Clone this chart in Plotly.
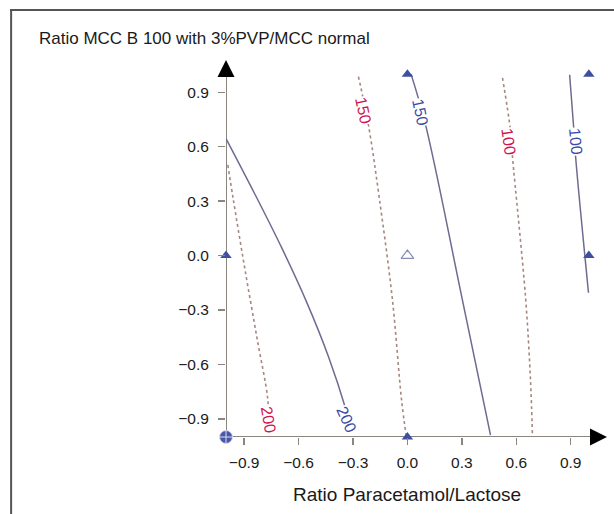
import plotly.graph_objects as go

# ---------------- data ----------------
tick_vals = [-0.9, -0.6, -0.3, 0.0, 0.3, 0.6, 0.9]
tick_text = ["\u22120.9", "\u22120.6", "\u22120.3", "0.0", "0.3", "0.6", "0.9"]

# solid (blue-labelled) contours
blue_200_x = [-1.0, -0.844, -0.694, -0.556, -0.436, -0.337, -0.317]
blue_200_y = [0.645, 0.345, 0.045, -0.255, -0.555, -0.855, -0.93]
blue_150_x = [0.02, 0.10, 0.30, 0.458]
blue_150_y = [1.0, 0.72, -0.23, -0.99]
blue_100_x = [0.894, 0.916, 0.927, 0.998]
blue_100_y = [0.997, 0.71, 0.545, -0.205]

# dotted (red-labelled) contours
red_200_x = [-0.99, -0.96, -0.90, -0.83, -0.77, -0.765]
red_200_y = [0.50, 0.31, -0.05, -0.45, -0.79, -0.93]
red_150_x = [-0.27, -0.215, -0.154, -0.083, -0.033, -0.006]
red_150_y = [0.986, 0.72, 0.309, -0.24, -0.79, -1.0]
red_100_x = [0.524, 0.568, 0.579, 0.651, 0.678, 0.689]
red_100_y = [0.98, 0.69, 0.545, -0.23, -0.68, -0.99]

# contour labels: text, x, y, angle
blue_labels = [("200", -0.336, -0.904, 66), ("150", 0.072, 0.79, 78), ("100", 0.927, 0.628, 85)]
red_labels = [("200", -0.767, -0.904, 80), ("150", -0.243, 0.80, 78), ("100", 0.557, 0.628, 82)]

# design points
filled_x = [0, 1, 1, -1, 0]
filled_y = [1, 1, 0, 0, -1]
open_x = [0]
open_y = [0]
center_x = [-1]
center_y = [-1]

title_text = "Ratio MCC B 100 with 3%PVP/MCC normal"
xlabel_text = "Ratio Paracetamol/Lactose"

# ---------------- styles ----------------
BLUE_LINE = "#6e6b92"
RED_LINE = "#a88680"
BLUE_TXT = "#3c4ba6"
RED_TXT = "#d0124e"
MARK = "#3f4fa0"
AXIS = "#8c8680"
FONT = "Liberation Sans"

fig = go.Figure()

for xs, ys in [(red_200_x, red_200_y), (red_150_x, red_150_y), (red_100_x, red_100_y)]:
    fig.add_trace(go.Scatter(x=xs, y=ys, mode="lines", line=dict(color=RED_LINE, width=1.6, dash="dot"),
                             line_shape="spline", hoverinfo="skip", showlegend=False))
for xs, ys in [(blue_200_x, blue_200_y), (blue_150_x, blue_150_y), (blue_100_x, blue_100_y)]:
    fig.add_trace(go.Scatter(x=xs, y=ys, mode="lines", line=dict(color=BLUE_LINE, width=1.5),
                             line_shape="spline", hoverinfo="skip", showlegend=False))

fig.add_trace(go.Scatter(x=filled_x, y=filled_y, mode="markers", cliponaxis=False,
                         marker=dict(symbol="triangle-up", size=10, color=MARK), showlegend=False))
fig.add_trace(go.Scatter(x=open_x, y=open_y, mode="markers", cliponaxis=False,
                         marker=dict(symbol="triangle-up-open", size=11, color="#8890b8", line=dict(width=1.2)),
                         showlegend=False))
fig.add_trace(go.Scatter(x=center_x, y=center_y, mode="markers", cliponaxis=False,
                         marker=dict(symbol="circle-cross", size=13, color="#4a58a8",
                                     line=dict(color="#d8dcf0", width=1)), showlegend=False))

annotations = []
for txt, x, y, ang in blue_labels:
    annotations.append(dict(x=x, y=y, xref="x", yref="y", text=txt, showarrow=False, textangle=ang,
                            font=dict(family=FONT, size=16, color=BLUE_TXT), bgcolor="white", borderpad=0))
for txt, x, y, ang in red_labels:
    annotations.append(dict(x=x, y=y, xref="x", yref="y", text=txt, showarrow=False, textangle=ang,
                            font=dict(family=FONT, size=16, color=RED_TXT), bgcolor="white", borderpad=0))

# axis arrowheads
annotations.append(dict(x=1.1, y=-1, ax=1.03, ay=-1, xref="x", yref="y", axref="x", ayref="y", text="",
                        showarrow=True, arrowhead=2, arrowsize=1.7, arrowwidth=2, arrowcolor="black"))
annotations.append(dict(x=-1, y=1.078, ax=-1, ay=1.01, xref="x", yref="y", axref="x", ayref="y", text="",
                        showarrow=True, arrowhead=2, arrowsize=1.7, arrowwidth=2, arrowcolor="black"))

annotations.append(dict(x=-0.496, y=1.047, xref="paper", yref="paper", text=title_text, showarrow=False,
                        xanchor="left", yanchor="middle", font=dict(family=FONT, size=17, color="#1a1a1a")))
annotations.append(dict(x=0.475, y=-0.152, xref="paper", yref="paper", text=xlabel_text, showarrow=False,
                        xanchor="center", yanchor="middle", font=dict(family=FONT, size=19, color="#1a1a1a")))

shapes = [
    dict(type="line", xref="x", yref="y", x0=-1, y0=-1, x1=1.05, y1=-1, line=dict(color=AXIS, width=2), layer="below"),
    dict(type="line", xref="x", yref="y", x0=-1, y0=-1, x1=-1, y1=1.03, line=dict(color=AXIS, width=2), layer="below"),
    dict(type="line", xref="paper", yref="paper", x0=-0.567, y0=1.121, x1=1.03, y1=1.121,
         line=dict(color="#555555", width=2)),
    dict(type="line", xref="paper", yref="paper", x0=-0.564, y0=1.121, x1=-0.564, y1=-0.25,
         line=dict(color="#555555", width=2)),
]

axis_common = dict(range=[-1, 1.1], tickvals=tick_vals, ticktext=tick_text, showgrid=False, zeroline=False,
                   showline=False, ticks="outside", ticklen=7, tickwidth=1.5, tickcolor=AXIS,
                   tickfont=dict(family=FONT, size=15.5, color="#1a1a1a"), fixedrange=True)

fig.update_layout(
    width=614, height=514,
    margin=dict(l=226, r=7, t=56, b=77),
    paper_bgcolor="white", plot_bgcolor="white",
    xaxis=dict(**axis_common, ticklabelstandoff=4),
    yaxis=dict(**axis_common, ticklabelstandoff=6),
    annotations=annotations, shapes=shapes, showlegend=False,
)

fig.write_html("out.html", config={"displayModeBar": False, "staticPlot": True},
               post_script="document.body.style.margin='0';document.body.style.overflow='hidden';")
